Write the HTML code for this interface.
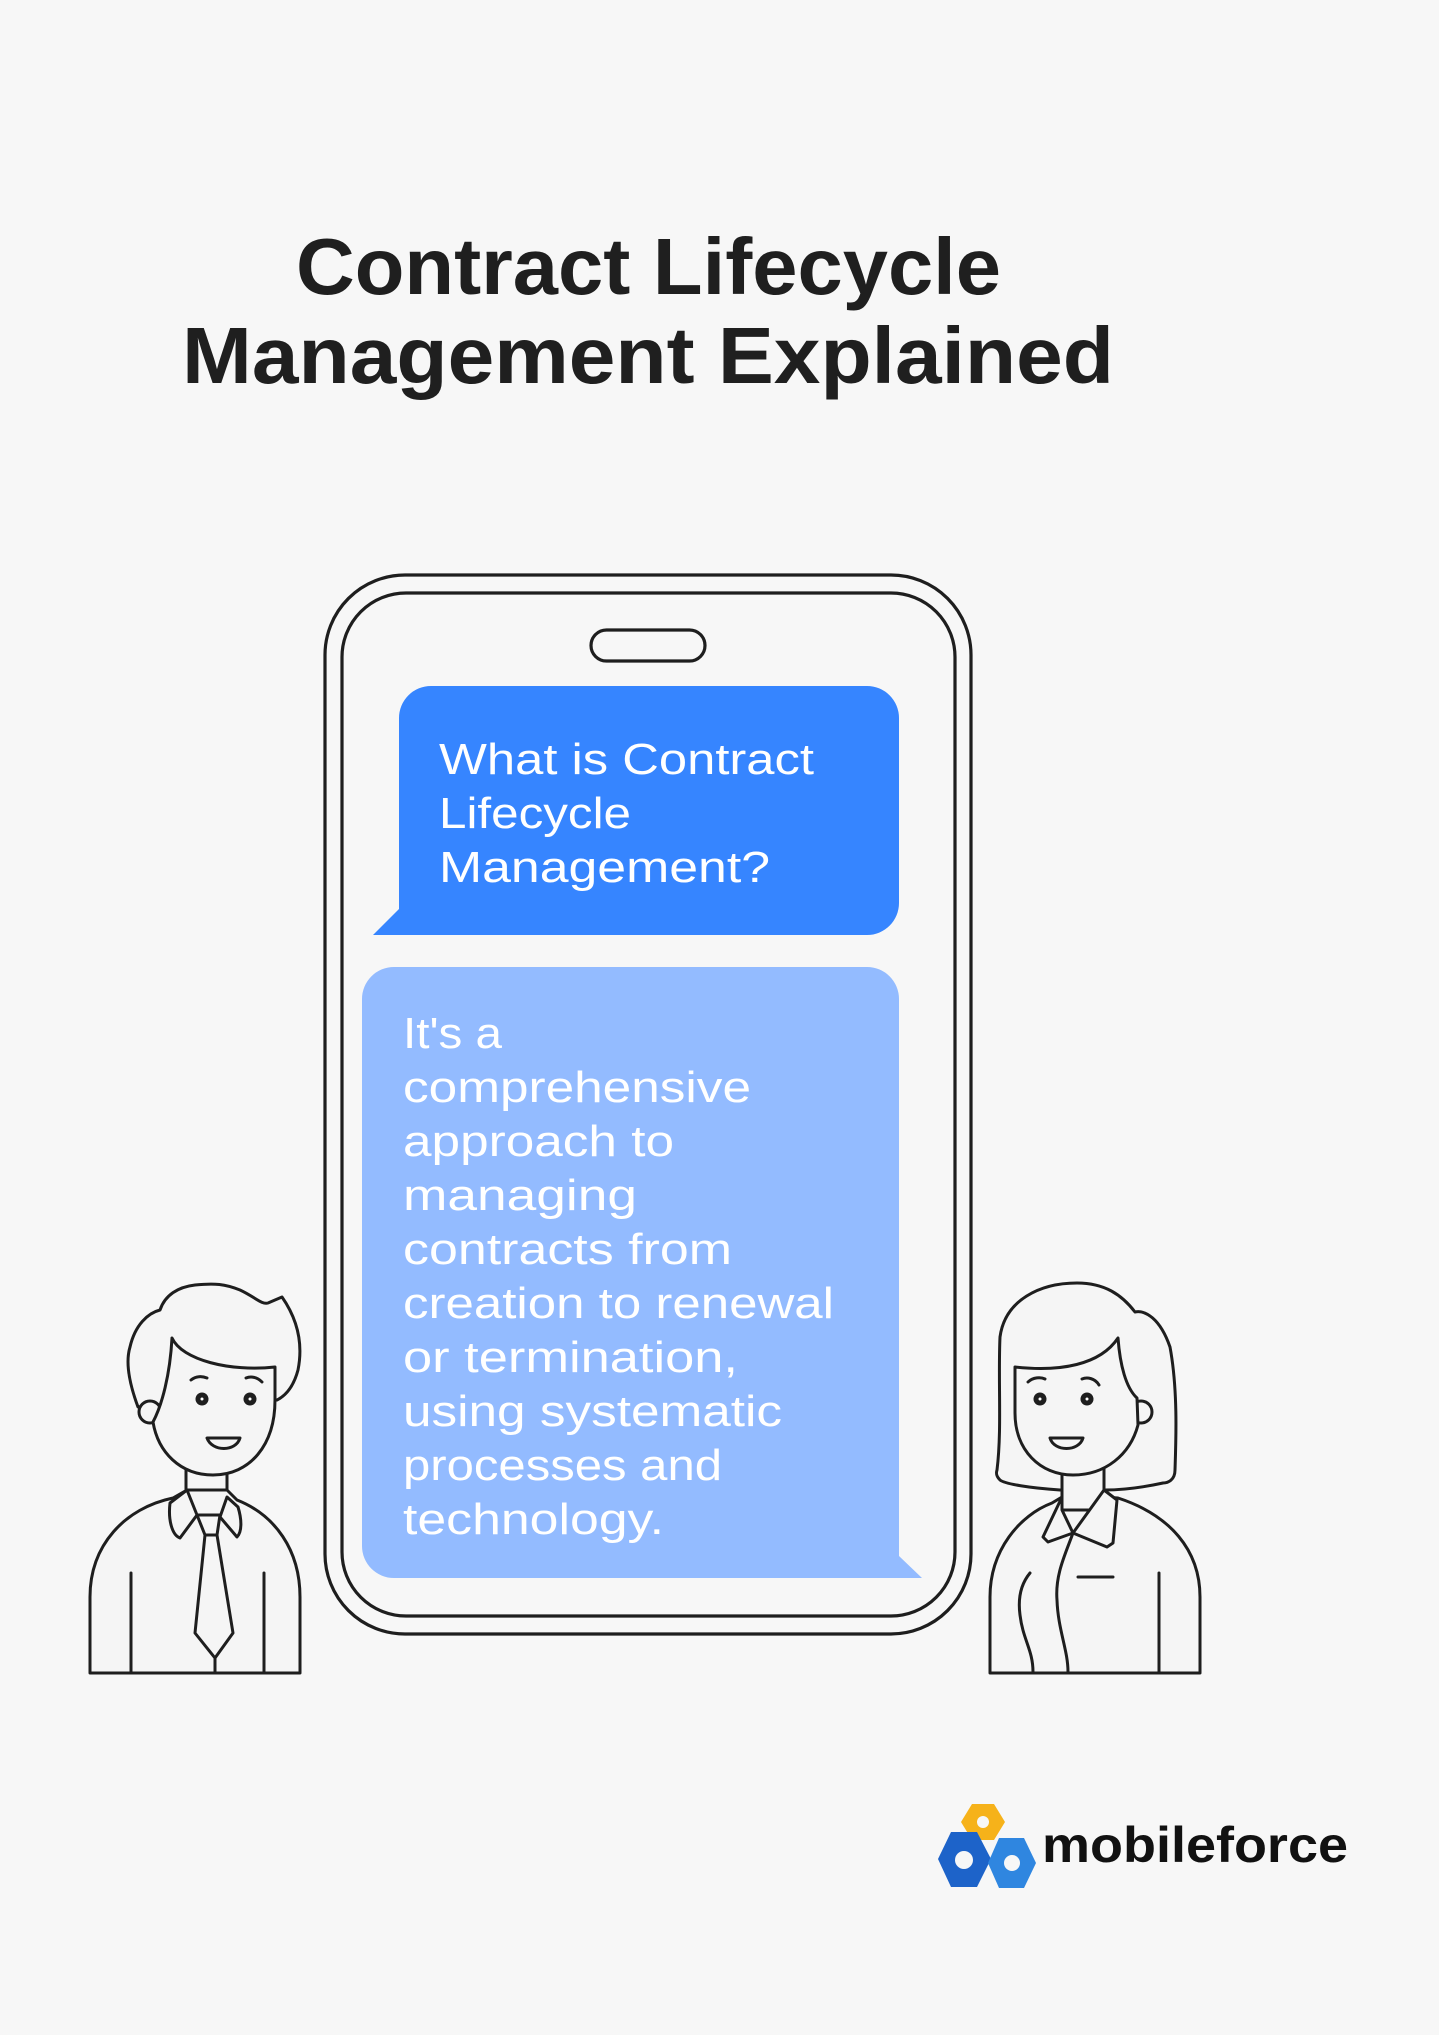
<!DOCTYPE html>
<html><head><meta charset="utf-8"><style>
html,body{margin:0;padding:0;background:#f7f7f7;}
svg{display:block;}
</style></head><body>
<svg width="1439" height="2035" viewBox="0 0 1439 2035" xmlns="http://www.w3.org/2000/svg">
<rect width="1439" height="2035" fill="#f7f7f7"/>
<g font-family="Liberation Sans, sans-serif" font-weight="bold" fill="#1f1f1f" font-size="80">
<text x="296" y="294" textLength="705" lengthAdjust="spacingAndGlyphs">Contract Lifecycle</text>
<text x="182" y="383" textLength="932" lengthAdjust="spacingAndGlyphs">Management Explained</text>
</g>
<g fill="none" stroke="#1e1e1e" stroke-width="3.2">
<rect x="325" y="575" width="646" height="1059" rx="80"/>
<rect x="342" y="593" width="613" height="1023" rx="64"/>
<rect x="591" y="630" width="114" height="31" rx="15.5"/>
</g>
<path d="M431,686 H867 A32,32 0 0 1 899,718 V903 A32,32 0 0 1 867,935 H373 L399,909 V718 A32,32 0 0 1 431,686 Z" fill="#3685ff"/>
<path d="M394,967 H867 A32,32 0 0 1 899,999 V1556 L922,1578 H394 A32,32 0 0 1 362,1546 V999 A32,32 0 0 1 394,967 Z" fill="#93bbff"/>
<g font-family="Liberation Sans, sans-serif" fill="#fff" font-size="44">
<text x="439" y="774" textLength="375" lengthAdjust="spacingAndGlyphs">What is Contract</text>
<text x="439" y="828" textLength="192" lengthAdjust="spacingAndGlyphs">Lifecycle</text>
<text x="439" y="882" textLength="331" lengthAdjust="spacingAndGlyphs">Management?</text>
<text x="403" y="1048" textLength="99" lengthAdjust="spacingAndGlyphs">It's a</text>
<text x="403" y="1102" textLength="348" lengthAdjust="spacingAndGlyphs">comprehensive</text>
<text x="403" y="1156" textLength="271" lengthAdjust="spacingAndGlyphs">approach to</text>
<text x="403" y="1210" textLength="234" lengthAdjust="spacingAndGlyphs">managing</text>
<text x="403" y="1264" textLength="329" lengthAdjust="spacingAndGlyphs">contracts from</text>
<text x="403" y="1318" textLength="431" lengthAdjust="spacingAndGlyphs">creation to renewal</text>
<text x="403" y="1372" textLength="335" lengthAdjust="spacingAndGlyphs">or termination,</text>
<text x="403" y="1426" textLength="379" lengthAdjust="spacingAndGlyphs">using systematic</text>
<text x="403" y="1480" textLength="319" lengthAdjust="spacingAndGlyphs">processes and</text>
<text x="403" y="1534" textLength="261" lengthAdjust="spacingAndGlyphs">technology.</text>
</g>
<!-- man -->
<g fill="#f5f5f5" stroke="#1e1e1e" stroke-width="3" stroke-linejoin="round" stroke-linecap="round">
<path d="M90,1673 V1597 C90,1545 125,1508 173,1498 L187,1490 H227 L237,1500 C275,1515 300,1550 300,1597 V1673 Z"/>
<path d="M138,1407 C128,1380 126,1360 130,1347 C135,1325 148,1313 160,1310 C165,1295 178,1287 195,1285 C215,1283 225,1284 240,1290 C255,1297 262,1305 268,1303 L282,1297 C298,1320 303,1345 298,1370 C294,1385 287,1395 277,1400 Z"/>
<rect x="186" y="1455" width="41" height="35"/>
<circle cx="150" cy="1412" r="11"/>
<path d="M172,1338 C182,1360 230,1372 275,1367 V1400 C275,1445 250,1475 213,1475 C180,1475 158,1452 153,1422 C162,1405 170,1375 172,1338 Z"/>
<path d="M187,1490 L170,1503 C168,1520 172,1535 180,1538 L197,1515 Z"/>
<path d="M227,1497 L238,1507 C242,1520 242,1532 237,1537 L220,1517 Z"/>
<path d="M197,1515 H220 L217,1535 H205 Z"/>
<path d="M205,1535 L195,1633 L215,1658 L233,1633 L217,1535 Z"/>
<path d="M215,1658 V1673 M131,1573 V1673 M264,1573 V1673" fill="none"/>
<path d="M191,1380 C196,1376 202,1376 207,1378 M246,1378 C251,1376 257,1377 262,1382 M207,1438 H240 C236,1452 212,1452 207,1438 Z" fill="none"/>
</g>
<circle cx="202" cy="1399" r="6.5" fill="#1e1e1e"/><circle cx="250" cy="1399" r="6.5" fill="#1e1e1e"/>
<circle cx="202" cy="1399" r="1.5" fill="#fff"/><circle cx="250" cy="1399" r="1.5" fill="#fff"/>
<!-- woman -->
<g fill="#f5f5f5" stroke="#1e1e1e" stroke-width="3" stroke-linejoin="round" stroke-linecap="round">
<path d="M997,1470 C1002,1430 998,1380 1000,1337 C1005,1300 1040,1283 1077,1283 C1105,1283 1122,1295 1135,1312 C1145,1310 1160,1318 1170,1347 C1178,1390 1176,1440 1175,1470 C1175,1480 1168,1483 1163,1483 C1140,1488 1120,1490 1105,1490 L1060,1490 C1030,1488 1005,1484 1000,1480 C996,1476 996,1473 997,1470 Z"/>
<path d="M990,1673 V1597 C990,1550 1020,1515 1052,1503 L1062,1497 H1104 L1118,1498 C1170,1515 1200,1550 1200,1597 V1673 Z"/>
<rect x="1062" y="1465" width="42" height="45"/>
<circle cx="1141" cy="1412" r="11"/>
<path d="M1015,1367 C1060,1372 1100,1365 1118,1338 C1120,1365 1126,1388 1137,1398 L1138,1425 C1130,1455 1105,1475 1073,1475 C1040,1475 1015,1450 1015,1413 Z"/>
<path d="M1062,1497 L1043,1537 L1048,1542 L1073,1533 L1062,1510 Z"/>
<path d="M1104,1490 L1117,1500 L1113,1543 L1107,1547 L1073,1533 Z"/>
<path d="M1073,1533 C1065,1555 1055,1575 1057,1600 C1058,1630 1068,1650 1068,1672 M1030,1573 C1020,1585 1018,1600 1020,1615 C1023,1640 1033,1650 1033,1672 M1078,1577 H1113 M1159,1573 V1673" fill="none"/>
<path d="M1028,1382 C1033,1377 1041,1377 1045,1379 M1082,1379 C1087,1377 1095,1378 1099,1385 M1050,1438 H1083 C1079,1452 1054,1452 1050,1438 Z" fill="none"/>
</g>
<circle cx="1040" cy="1399" r="6.5" fill="#1e1e1e"/><circle cx="1087" cy="1399" r="6.5" fill="#1e1e1e"/>
<circle cx="1040" cy="1399" r="1.5" fill="#fff"/><circle cx="1087" cy="1399" r="1.5" fill="#fff"/>
<!-- logo -->
<g>
<polygon points="972,1804 994,1804 1005,1822 994,1840 972,1840 961,1822" fill="#f6b21a"/>
<circle cx="983" cy="1822" r="6" fill="#f7f7f7"/>
<polygon points="951,1832 977,1832 991,1859 977,1887 951,1887 938,1859" fill="#1d63c9"/>
<circle cx="964" cy="1860" r="9" fill="#f7f7f7"/>
<polygon points="999,1838 1024,1838 1036,1863 1024,1888 999,1888 988,1863" fill="#2f86e0"/>
<circle cx="1012" cy="1863" r="8" fill="#f7f7f7"/>
<text x="1042" y="1862" font-family="Liberation Sans, sans-serif" font-weight="bold" font-size="50" fill="#111" textLength="306" lengthAdjust="spacingAndGlyphs">mobileforce</text>
</g>
</svg>
</body></html>
